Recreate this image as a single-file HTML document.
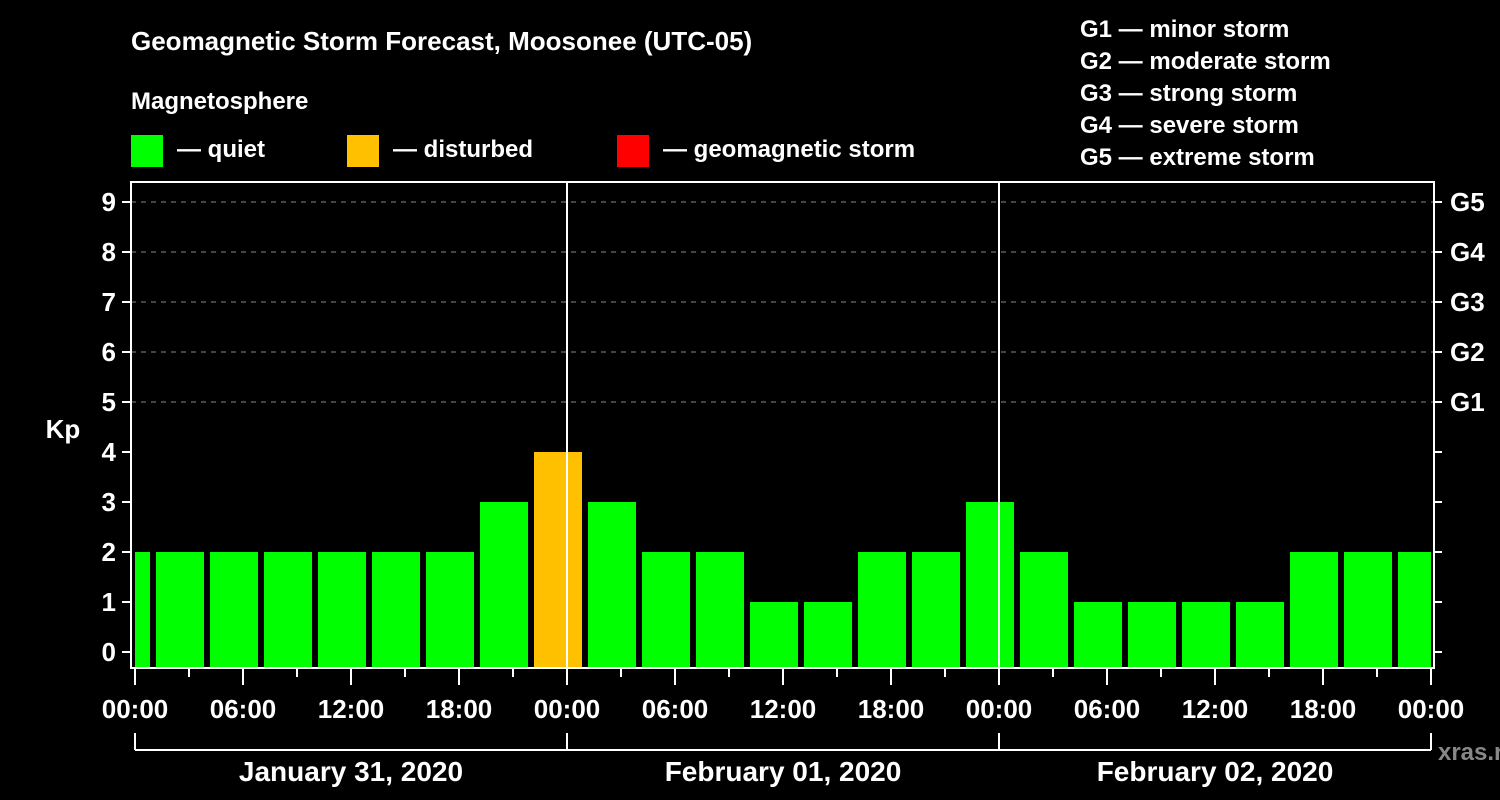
<!DOCTYPE html>
<html><head><meta charset="utf-8"><style>
html,body{margin:0;padding:0;background:#000;}
svg{display:block;font-family:"Liberation Sans",Arial,sans-serif;font-weight:bold;}
</style></head><body>
<svg id="chart" width="1500" height="800" viewBox="0 0 1500 800">
<rect x="0" y="0" width="1500" height="800" fill="#000"/>
<text x="131" y="50" fill="#fff" font-size="26">Geomagnetic Storm Forecast, Moosonee (UTC-05)</text>
<text x="131" y="109" fill="#fff" font-size="24">Magnetosphere</text>
<g><rect x="131" y="135" width="32" height="32" fill="#00ff00"/><text x="177" y="157" fill="#fff" font-size="24">— quiet</text></g>
<g><rect x="347" y="135" width="32" height="32" fill="#ffc000"/><text x="393" y="157" fill="#fff" font-size="24">— disturbed</text></g>
<g><rect x="617" y="135" width="32" height="32" fill="#ff0000"/><text x="663" y="157" fill="#fff" font-size="24">— geomagnetic storm</text></g>
<g fill="#fff" font-size="24">
<text x="1080" y="37">G1 — minor storm</text>
<text x="1080" y="69">G2 — moderate storm</text>
<text x="1080" y="101">G3 — strong storm</text>
<text x="1080" y="133">G4 — severe storm</text>
<text x="1080" y="165">G5 — extreme storm</text>
</g>
<text x="63" y="438" fill="#fff" font-size="26" text-anchor="middle">Kp</text>
<text x="1478" y="760" fill="#888" font-size="24" text-anchor="middle">xras.ru</text>
<g id="grid"></g><g id="bars"></g><g id="axes"></g>
</svg>
<script>
const kpValues=[2,2,2,2,2,2,2,3,4,3,2,2,1,1,2,2,3,2,1,1,1,1,2,2,2];
const binStartHours=[-2,1,4,7,10,13,16,19,22,25,28,31,34,37,40,43,46,49,52,55,58,61,64,67,70];
const yTicks=[0,1,2,3,4,5,6,7,8,9];
const gLabels=["G1","G2","G3","G4","G5"];
const gLevels=[5,6,7,8,9];
const xTickLabels=["00:00","06:00","12:00","18:00","00:00","06:00","12:00","18:00","00:00","06:00","12:00","18:00","00:00"];
const dateLabels=["January 31, 2020","February 01, 2020","February 02, 2020"];
const NS="http://www.w3.org/2000/svg";
const L=131,R=1434,T=182,B=668,X0=135,PH=18;
const x=h=>X0+h*PH, y=v=>652-v*50;
function mk(tag,at,parent){const e=document.createElementNS(NS,tag);for(const k in at)e.setAttribute(k,at[k]);document.getElementById(parent).appendChild(e);return e;}
// grid
gLevels.forEach(v=>{const e=mk('line',{x1:L,x2:R,y1:y(v),y2:y(v),stroke:'#888','stroke-dasharray':'5,5','stroke-width':1},'grid');

});
// bars
kpValues.forEach((v,i)=>{let x1=x(binStartHours[i])+3,x2=x(binStartHours[i]+3)-3;x1=Math.max(x1,X0);x2=Math.min(x2,x(72));
const c=v>=5?'#ff0000':(v>=4?'#ffc000':'#00ff00');
const e=mk('rect',{x:x1,y:y(v),width:x2-x1,height:B-1-y(v),fill:c},'bars');

});
// day separators
[24,48].forEach(h=>{const e=mk('line',{x1:x(h),x2:x(h),y1:T,y2:B,stroke:'#fff','stroke-width':2},'axes');

});
// frame
const f=mk('rect',{x:L,y:T,width:R-L,height:B-T,fill:'none',stroke:'#fff','stroke-width':2},'axes');


// y ticks
yTicks.forEach(v=>{mk('line',{x1:122,x2:L,y1:y(v),y2:y(v),stroke:'#fff','stroke-width':2},'axes');
mk('line',{x1:R,x2:1442,y1:y(v),y2:y(v),stroke:'#fff','stroke-width':2},'axes');
const t=mk('text',{x:116,y:y(v)+9,fill:'#fff','font-size':26,'text-anchor':'end'},'axes');t.textContent=v;

});
gLabels.forEach((g,i)=>{const t=mk('text',{x:1450,y:y(gLevels[i])+9,fill:'#fff','font-size':26},'axes');t.textContent=g;

});
// x ticks
for(let h=0;h<=72;h+=3){const major=h%6===0;mk('line',{x1:x(h),x2:x(h),y1:B,y2:major?685:677,stroke:'#fff','stroke-width':2},'axes');}
xTickLabels.forEach((s,i)=>{const t=mk('text',{x:x(i*6),y:718,fill:'#fff','font-size':26,'text-anchor':'middle'},'axes');t.textContent=s;

});
// date bracket
mk('line',{x1:x(0),x2:x(72),y1:750,y2:750,stroke:'#fff','stroke-width':2},'axes');
[0,24,48,72].forEach(h=>mk('line',{x1:x(h),x2:x(h),y1:733,y2:750,stroke:'#fff','stroke-width':2},'axes'));
dateLabels.forEach((s,i)=>{const t=mk('text',{x:x(i*24+12),y:781,fill:'#fff','font-size':28,'text-anchor':'middle'},'axes');t.textContent=s;

});
</script>
</body></html>
